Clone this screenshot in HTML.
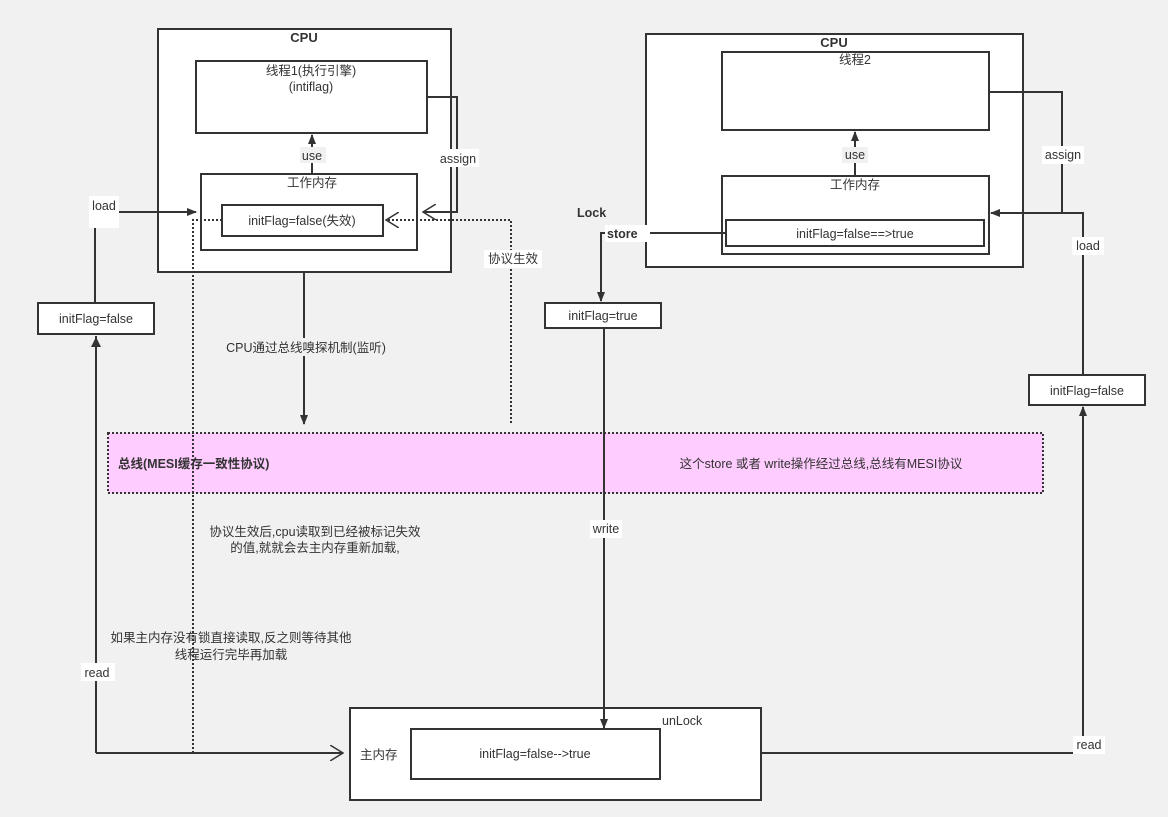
<!DOCTYPE html>
<html><head><meta charset="utf-8"><style>
html,body{margin:0;padding:0;background:#f1f1f1;}
svg{display:block;font-family:"Liberation Sans","Noto Sans CJK SC",sans-serif;}
text{font-size:12.5px;fill:#333;}
.b{font-weight:bold;}
</style></head><body>
<svg width="1168" height="817" viewBox="0 0 1168 817" xmlns="http://www.w3.org/2000/svg">
<defs>
<marker id="f" markerWidth="10" markerHeight="10" refX="9" refY="5" orient="auto" markerUnits="userSpaceOnUse"><path d="M0,1 L10,5 L0,9 Z" fill="#333"/></marker>
<marker id="o" markerWidth="14" markerHeight="16" refX="13" refY="8" orient="auto" markerUnits="userSpaceOnUse"><path d="M0,0 L13,8 L0,16" fill="none" stroke="#333" stroke-width="1.5"/></marker>
</defs>
<g stroke="#333" stroke-width="2" fill="#fff">
<rect x="158" y="29" width="293" height="243"/>
<rect x="196" y="61" width="231" height="72"/>
<rect x="201" y="174" width="216" height="76"/>
<rect x="222" y="205" width="161" height="31"/>
<rect x="38" y="303" width="116" height="31"/>
<rect x="646" y="34" width="377" height="233"/>
<rect x="722" y="52" width="267" height="78"/>
<rect x="722" y="176" width="267" height="78"/>
<rect x="726" y="220" width="258" height="26"/>
<rect x="545" y="303" width="116" height="25"/>
<rect x="1029" y="375" width="116" height="30"/>
<rect x="350" y="708" width="411" height="92"/>
<rect x="411" y="729" width="249" height="50"/>
</g>
<rect x="108" y="433" width="935" height="60" fill="#ffccff" stroke="#333" stroke-width="2" stroke-dasharray="2,2"/>
<g stroke="#333" stroke-width="2" fill="none">
<path d="M427,97 H457 V212 H423" marker-end="url(#o)"/>
<path d="M312,174 V135" marker-end="url(#f)"/>
<path d="M95,303 V212 H196" marker-end="url(#f)"/>
<path d="M761,753 H1083 V407" marker-end="url(#f)"/>
<path d="M96,753 V336" />
<path d="M96,753 H343" marker-end="url(#o)"/>
<path d="M304,272 V424" marker-end="url(#f)"/>
<path d="M855,176 V132" marker-end="url(#f)"/>
<path d="M726,233 H601 V301" marker-end="url(#f)"/>
<path d="M604,328 V728" marker-end="url(#f)"/>
<path d="M989,92 H1062 V213 H991" marker-end="url(#f)"/>
<path d="M1083,375 V213 H1062"/>
</g>
<path d="M96,337 l-5,10 h10z" fill="#333"/>
<g stroke="#333" stroke-width="2" fill="none" stroke-dasharray="2,2">
<path d="M222,220 H193 V753 H343"/>
<path d="M511,423 V220 H386" marker-end="url(#o)"/>
</g>
<g fill="#fff">
<rect x="89" y="196" width="30" height="32"/>
<rect x="437" y="149" width="42" height="18"/>
<rect x="1042" y="146" width="42" height="18"/>
<rect x="1072" y="237" width="32" height="18"/>
<rect x="484" y="250" width="58" height="18"/>
<rect x="605" y="225" width="45" height="17"/>
<rect x="590" y="520" width="32" height="18"/>
<rect x="81" y="663" width="34" height="18"/>
<rect x="1073" y="736" width="32" height="18"/>
</g>
<g fill="#f1f1f1">
<rect x="300" y="147" width="26" height="16"/>
<rect x="842" y="147" width="26" height="16"/>
<rect x="222" y="338" width="168" height="18"/>
</g>
<g text-anchor="middle">
<text x="304" y="42" class="b" style="font-size:13px">CPU</text>
<text x="311" y="75">线程1(执行引擎)</text>
<text x="311" y="91">(intiflag)</text>
<text x="312" y="160">use</text>
<text x="312" y="187">工作内存</text>
<text x="302" y="225">initFlag=false(失效)</text>
<text x="458" y="163">assign</text>
<text x="104" y="210">load</text>
<text x="96" y="323">initFlag=false</text>
<text x="513" y="263">协议生效</text>
<text x="306" y="352">CPU通过总线嗅探机制(监听)</text>
<text x="834" y="47" class="b" style="font-size:13px">CPU</text>
<text x="855" y="64">线程2</text>
<text x="855" y="159">use</text>
<text x="855" y="189">工作内存</text>
<text x="855" y="238">initFlag=false==&gt;true</text>
<text x="1063" y="159">assign</text>
<text x="1088" y="250">load</text>
<text x="603" y="320">initFlag=true</text>
<text x="1087" y="395">initFlag=false</text>
<text x="821" y="468">这个store 或者 write操作经过总线,总线有MESI协议</text>
<text x="606" y="533">write</text>
<text x="315" y="536">协议生效后,cpu读取到已经被标记失效</text>
<text x="315" y="552">的值,就就会去主内存重新加载,</text>
<text x="231" y="642">如果主内存没有锁直接读取,反之则等待其他</text>
<text x="231" y="659">线程运行完毕再加载</text>
<text x="97" y="677">read</text>
<text x="535" y="758">initFlag=false--&gt;true</text>
<text x="1089" y="749">read</text>
</g>
<text x="118" y="468" class="b">总线(MESI缓存一致性协议)</text>
<text x="577" y="217" class="b">Lock</text>
<text x="607" y="238" class="b">store</text>
<text x="360" y="759">主内存</text>
<text x="662" y="725">unLock</text>
</svg>
</body></html>
